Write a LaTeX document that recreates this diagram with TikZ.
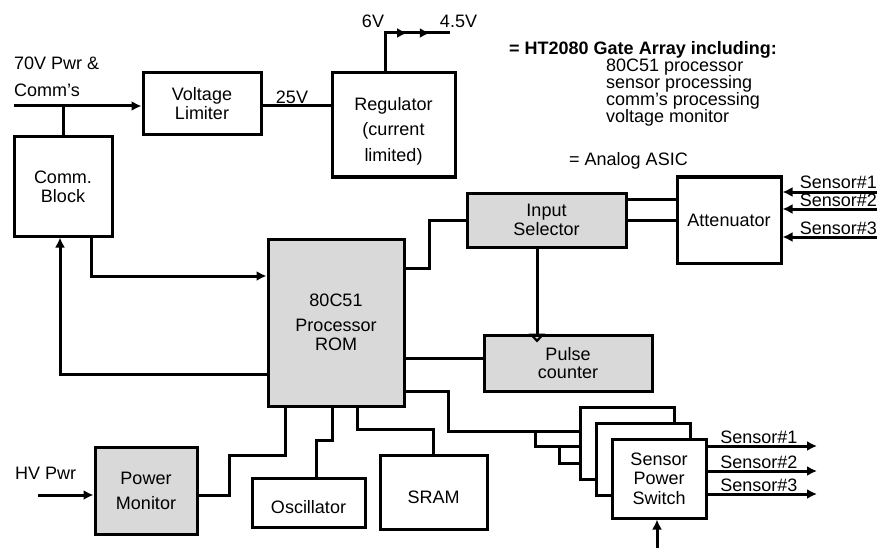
\documentclass[tikz,border=0pt]{standalone}
\usepackage{fontspec}
\setmainfont{Liberation Sans}
\usepackage{tikz}
\usetikzlibrary{arrows.meta,positioning,calc,decorations.markings}
\definecolor{asicgray}{gray}{0.85}

\begin{document}
\begin{tikzpicture}[x=1pt, y=-1pt,
    every node/.style={font=\fontsize{18}{19}\selectfont},
    block/.style={rectangle, draw, line width=3pt, fill=white, inner sep=1pt, align=center},
    asic/.style={block, fill=asicgray},
    wire/.style={line width=3pt},
    arrow/.style={wire, -{Latex[length=10pt, width=10pt]}},
    txt/.style={inner sep=0pt, align=left}
]
\useasboundingbox (0,0) rectangle (877,548);

\node[block, minimum width=98pt, minimum height=99pt] (comm) at (63,186.5) {Comm.\\Block};
\node[block, minimum width=118pt, minimum height=62pt] (vlim) at (202,104) {Voltage\\Limiter};
\node[block, minimum width=123pt, minimum height=104pt, font=\fontsize{18}{25.5}\selectfont] (reg) at (393.5,125) {\rule{0pt}{25pt}Regulator\\(current\\limited)};
\node[asic, minimum width=159pt, minimum height=54pt] (insel) at (546.5,220) {Input\\Selector};
\node[block, minimum width=104pt, minimum height=86pt] (att) at (729,220) {Attenuator};
\node[asic, minimum width=136pt, minimum height=167pt] (proc) at (336,322.5) {80C51\\[6pt]Processor\\ROM};
\node[asic, minimum width=168pt, minimum height=56pt, font=\fontsize{18}{18}\selectfont] (pulse) at (568,363) {Pulse\\counter};
\node[asic, minimum width=102pt, minimum height=87pt, font=\fontsize{18}{25}\selectfont] (pmon) at (146,490.5) {Power\\Monitor};
\node[block, minimum width=113pt, minimum height=49pt] (osc) at (308.5,502.5) {\rule{0pt}{23pt}Oscillator};
\node[block, minimum width=107pt, minimum height=74pt] (sram) at (433.5,492) {\rule{0pt}{23pt}SRAM};
\node[block, minimum width=94pt, minimum height=72pt] (sps1) at (627,443) {};
\node[block, minimum width=94pt, minimum height=72pt] (sps2) at (643,459) {};
\node[block, minimum width=94pt, minimum height=79pt, font=\fontsize{18}{19.5}\selectfont] (sps3) at (659,478.5) {Sensor\\Power\\Switch};

\node[txt, anchor=north west, font=\fontsize{18}{27}\selectfont] (pwrlbl) at (14,57) {70V Pwr \&\\Comm’s};
\node[txt, anchor=base] (v25lbl) at (292,104) {25V};
\node[txt, anchor=base] (v6lbl) at (373,28) {6V};
\node[txt, anchor=base] (v45lbl) at (458.5,28) {4.5V};
\node[txt, anchor=base west, font=\bfseries\fontsize{18}{19}\selectfont] (gatelbl) at (509,55) {= HT2080 Gate Array including:};
\node[txt, anchor=north west, font=\fontsize{18}{17}\selectfont] (gatelist) at (606,59) {80C51 processor\\sensor processing\\comm’s processing\\voltage monitor};
\node[txt, anchor=base west] (asiclbl) at (569,165) {= Analog ASIC};
\node[txt, anchor=west] (hvlbl) at (15,473.5) {HV Pwr};

\coordinate (pwrsrc) at (14,106);
\draw[arrow] (pwrsrc) -- (pwrsrc -| vlim.west);
\draw[wire] (comm.north) -- (comm.north |- pwrsrc);
\draw[wire] (vlim.east |- pwrsrc) -- (reg.west |- pwrsrc);

\coordinate (v6) at (385,33);
\coordinate (v45) at (450,33);
\draw[wire] (v6 |- reg.north) -- (v6) -- (v45);
\path[wire, decoration={markings,
    mark=at position 0.34 with {\arrow{Latex[length=10pt, width=10pt]}},
    mark=at position 0.69 with {\arrow{Latex[length=10pt, width=10pt]}}}, decorate] (v6) -- (v45);

\draw[arrow] ([xshift=28pt]comm.south) |- ($(proc.west)+(0,-46.5)$);
\draw[arrow] ($(proc.west)+(0,51.5)$) -| ([xshift=-3pt]comm.south);
\draw[wire] ($(proc.east)+(0,-54.5)$) -| ($(insel.west)+(-36,0)$) -- (insel.west);
\draw[wire] ($(insel.east)+(0,-21)$) coordinate (ia) -- (ia -| att.west);
\draw[wire] (insel.east) -- (insel.east -| att.west);
\draw[wire, -{Triangle[open, length=9pt, width=16pt, line width=2.2pt]}] ([xshift=-9.5pt]insel.south) -- ($(insel.south |- pulse.north)+(-9.5,9)$);
\draw[wire] ($(proc.east)+(0,35.5)$) coordinate (pc) -- (pc -| pulse.west);

\foreach \y/\n in {192/1, 209/2, 237/3}{
  \coordinate (sin\n) at (877,\y);
  \draw[arrow] (sin\n) -- (sin\n -| att.east);
  \node[txt, anchor=base east] (sinlbl\n) at ($(sin\n)+(0,-3)$) {Sensor\#\n};
}

\draw[wire] ($(proc.east)+(0,68.5)$) -| ($(sps1.west)+(-130,-12)$) -- ($(sps1.west)+(0,-12)$);
\draw[wire] ($(sps1.west)+(-43,-12)$) |- ($(sps1.west)+(0,3)$);
\draw[wire] ($(sps1.west)+(-19,3)$) |- ($(sps1.west)+(0,20)$);

\foreach \y/\n in {446/1, 471/2, 494/3}{
  \coordinate (sout\n) at (817,\y);
  \draw[arrow] (sout\n -| sps3.east) -- (sout\n) node[txt, pos=0.47, anchor=base, yshift=3pt] {Sensor\#\n};
}
\coordinate (spsin) at (657,548);
\draw[arrow] (spsin) -- (spsin |- sps3.south);

\coordinate (hvsrc) at (38,495);
\draw[arrow] (hvsrc) -- (hvsrc -| pmon.west);
\draw[wire] ($(pmon.east)+(0,4.5)$) -| ($(pmon.east)+(31,-35.5)$) -| ([xshift=-51pt]proc.south);
\draw[wire] ([xshift=7.5pt]osc.north) -- ++(0,-36) -| ([xshift=-4pt]proc.south);
\draw[wire] ([xshift=21pt]proc.south) |- ($(sram.north)+(0,-24)$) -- (sram.north);
\end{tikzpicture}
\end{document}
